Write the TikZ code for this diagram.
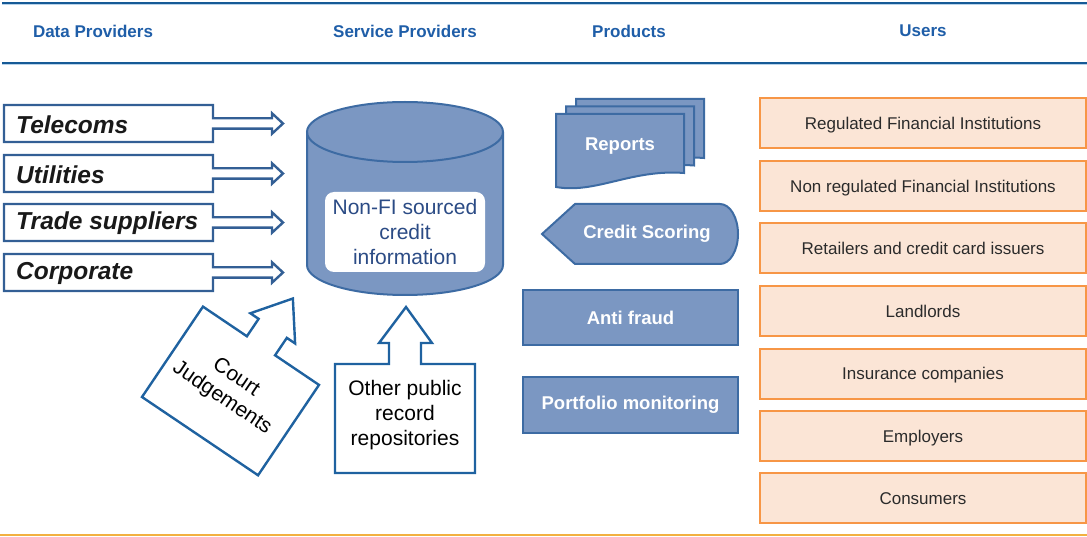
\documentclass[tikz,border=0pt]{standalone}
\usepackage{fontspec}
\setmainfont{Liberation Sans}
\definecolor{hdrblue}{HTML}{1F5EA8}
\definecolor{hdrline}{HTML}{165A96}
\definecolor{hdrlight}{HTML}{B8D3EA}
\definecolor{srcline}{HTML}{335F95}
\definecolor{callline}{HTML}{1F62A0}
\definecolor{prodfill}{HTML}{7B97C2}
\definecolor{prodline}{HTML}{3D6BA3}
\definecolor{cyltext}{HTML}{2B4B85}
\definecolor{userfill}{HTML}{FBE5D6}
\definecolor{userline}{HTML}{F79646}
\definecolor{usertext}{HTML}{2B2B2B}
\definecolor{botline}{HTML}{F2B040}
\begin{document}
\begin{tikzpicture}[x=1pt,y=-1pt,
  hdr/.style={font=\fontsize{17}{20}\selectfont\bfseries, text=hdrblue, inner sep=0pt},
  srcshape/.style={draw=srcline, line width=2.4pt, fill=white, line join=miter},
  srctext/.style={font=\fontsize{24.5}{28}\selectfont\bfseries\itshape, text=black!90, inner sep=0pt, anchor=west},
  callshape/.style={draw=callline, line width=2.4pt, fill=white, line join=miter},
  calltext/.style={font=\fontsize{21}{25}\selectfont, align=center, text=black, inner sep=0pt},
  prodshape/.style={draw=prodline, line width=2pt, fill=prodfill},
  prodtext/.style={font=\fontsize{18.5}{22}\selectfont\bfseries, text=white, inner sep=0pt},
  userbox/.style={draw=userline, line width=2pt, fill=userfill, minimum width=326pt, minimum height=50pt, inner sep=0pt, text height=12.2pt, text depth=0pt, font=\fontsize{17}{20}\selectfont, text=usertext}
]
\useasboundingbox (0,0) rectangle (1087,537);

% header rules
\draw[hdrline, line width=2.2pt] (2,2.9) -- (1087,2.9);
\draw[hdrlight, line width=1pt] (2,4.6) -- (1087,4.6);
\draw[hdrline, line width=2.2pt] (2,62.8) -- (1087,62.8);
\draw[hdrlight, line width=1pt] (2,64.6) -- (1087,64.6);
\draw[botline, line width=1.6pt] (0,535) -- (1087,535);

% headers
\node[hdr] (h1) at (93,31) {Data Providers};
\node[hdr] (h2) at (405,31) {Service Providers};
\node[hdr] (h3) at (629,31) {Products};
\node[hdr] (h4) at (923,31) {Users};

% data providers
\foreach \t/\l/\n in {105/Telecoms/tel, 155/Utilities/uti, 204/Trade suppliers/tra, 254/Corporate/cor}{
  \draw[srcshape] (4,\t) -- (213,\t) -- (213,{\t+13.3}) -- (272,{\t+13.3}) -- (272,{\t+8.3})
     -- (283,{\t+18.5}) -- (272,{\t+28.7}) -- (272,{\t+23.7}) -- (213,{\t+23.7}) -- (213,{\t+37})
     -- (4,{\t+37}) -- cycle;
  \node[srctext] (\n) at (16,{\t+19.5}) {\l};
}

% cylinder
\fill[prodfill] (307,132) -- (307,265) .. controls (307,281.6) and (350.9,295) .. (405,295)
   .. controls (459.1,295) and (503,281.6) .. (503,265) -- (503,132) -- cycle;
\fill[prodfill] (405,132) ellipse [x radius=98pt, y radius=30pt];
\draw[prodline, line width=2pt] (307,132) -- (307,265) .. controls (307,281.6) and (350.9,295) .. (405,295)
   .. controls (459.1,295) and (503,281.6) .. (503,265) -- (503,132);
\draw[prodline, line width=2pt] (405,132) ellipse [x radius=98pt, y radius=30pt];
\fill[white, rounded corners=9pt] (325,192) rectangle (485,272);
\node[font=\fontsize{21}{25}\selectfont, align=center, text=cyltext, inner sep=0pt] (nonfi) at (405,232)
  {Non-FI sourced\\credit\\information};

% court judgements callout
\begin{scope}[shift={(142,397)}, rotate=-34]
  \draw[callshape] (0,0) -- (140,0) -- (140,-109) -- (87,-109) -- (87,-130) -- (97,-130) -- (70,-166)
    -- (43,-130) -- (53,-130) -- (53,-109) -- (0,-109) -- cycle;
  \node[calltext, rotate=-34] (court) at (67,-56) {Court\\Judgements};
\end{scope}

% other public record callout
\begin{scope}[shift={(335,473)}]
  \draw[callshape] (0,0) -- (140,0) -- (140,-109) -- (86,-109) -- (86,-130) -- (97,-130) -- (71,-166)
    -- (44,-130) -- (54,-130) -- (54,-109) -- (0,-109) -- cycle;
  \node[calltext] (other) at (70,-58) {Other public\\record\\repositories};
\end{scope}

% reports (multi document)
\foreach \dx/\dy in {20/-15, 10/-7.5, 0/0}{
  \begin{scope}[shift={({556+\dx},{114+\dy})}]
    \draw[prodshape] (0,0) -- (128,0) -- (128,59) .. controls (75,55) and (40,80) .. (0,73) -- cycle;
  \end{scope}
}
\node[prodtext] (reports) at (620,146) {Reports};

% credit scoring
\draw[prodshape] (542,234) -- (575,204) -- (720,204) .. controls (730,204) and (738,217.4) .. (738,234)
   .. controls (738,250.6) and (730,264) .. (720,264) -- (575,264) -- cycle;
\node[prodtext] (scoring) at (647,234) {Credit Scoring};

% anti fraud, portfolio monitoring
\node[prodshape, prodtext, minimum width=215pt, minimum height=55pt] (fraud) at (630.5,317.5) {Anti fraud};
\node[prodshape, prodtext, minimum width=215pt, minimum height=56pt] (portfolio) at (630.5,405) {Portfolio monitoring};

% users
\node[userbox] (u1) at (923,123.5) {Regulated Financial Institutions};
\node[userbox] (u2) at (923,186) {Non regulated Financial Institutions};
\node[userbox] (u3) at (923,248.5) {Retailers and credit card issuers};
\node[userbox] (u4) at (923,311) {Landlords};
\node[userbox] (u5) at (923,373.5) {Insurance companies};
\node[userbox] (u6) at (923,436) {Employers};
\node[userbox] (u7) at (923,498) {Consumers};
\end{tikzpicture}
\end{document}
